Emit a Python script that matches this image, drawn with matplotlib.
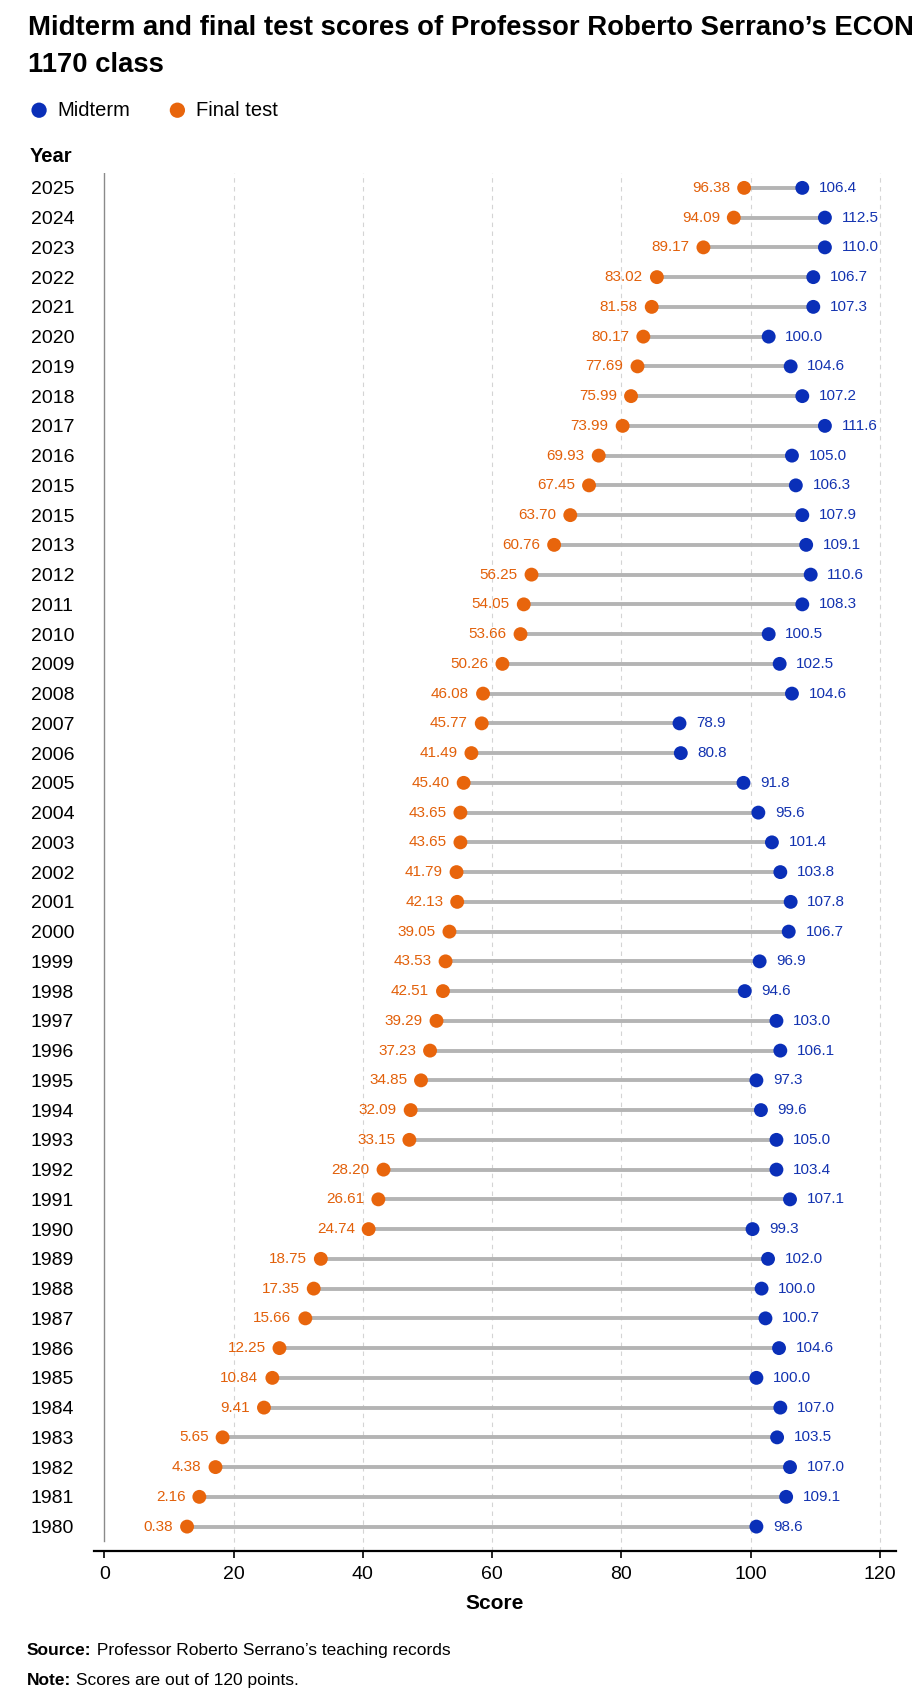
import matplotlib
matplotlib.use("Agg")
import matplotlib.pyplot as plt

plt.rcParams['font.family'] = ['Liberation Sans', 'DejaVu Sans']

# rows from top to bottom, as printed in the chart
YEARS = ["2025", "2024", "2023", "2022", "2021", "2020", "2019", "2018", "2017", "2016",
         "2015", "2015", "2013", "2012", "2011", "2010", "2009", "2008", "2007", "2006",
         "2005", "2004", "2003", "2002", "2001", "2000", "1999", "1998", "1997", "1996",
         "1995", "1994", "1993", "1992", "1991", "1990", "1989", "1988", "1987", "1986",
         "1985", "1984", "1983", "1982", "1981", "1980"]

# where the dots sit on the score axis
FINAL_POS = [99.0, 97.4, 92.7, 85.5, 84.7, 83.4, 82.5, 81.5, 80.2, 76.5,
             75.0, 72.1, 69.6, 66.1, 64.9, 64.4, 61.6, 58.6, 58.4, 56.8,
             55.6, 55.1, 55.1, 54.5, 54.6, 53.4, 52.8, 52.4, 51.4, 50.4,
             49.0, 47.4, 47.2, 43.2, 42.4, 40.9, 33.5, 32.4, 31.1, 27.1,
             26.0, 24.7, 18.3, 17.2, 14.7, 12.8]
MIDTERM_POS = [108.0, 111.5, 111.5, 109.7, 109.7, 102.8, 106.2, 108.0, 111.5, 106.4,
               107.0, 108.0, 108.6, 109.3, 108.0, 102.8, 104.5, 106.4, 89.0, 89.2,
               98.9, 101.2, 103.3, 104.6, 106.2, 105.9, 101.4, 99.1, 104.0, 104.6,
               100.9, 101.6, 104.0, 104.0, 106.1, 100.3, 102.7, 101.7, 102.3, 104.4,
               100.9, 104.6, 104.1, 106.1, 105.5, 100.9]

# the numbers printed next to the dots
FINAL_LABELS = [96.38, 94.09, 89.17, 83.02, 81.58, 80.17, 77.69, 75.99, 73.99, 69.93,
                67.45, 63.70, 60.76, 56.25, 54.05, 53.66, 50.26, 46.08, 45.77, 41.49,
                45.40, 43.65, 43.65, 41.79, 42.13, 39.05, 43.53, 42.51, 39.29, 37.23,
                34.85, 32.09, 33.15, 28.20, 26.61, 24.74, 18.75, 17.35, 15.66, 12.25,
                10.84, 9.41, 5.65, 4.38, 2.16, 0.38]
MIDTERM_LABELS = [106.4, 112.5, 110.0, 106.7, 107.3, 100.0, 104.6, 107.2, 111.6, 105.0,
                  106.3, 107.9, 109.1, 110.6, 108.3, 100.5, 102.5, 104.6, 78.9, 80.8,
                  91.8, 95.6, 101.4, 103.8, 107.8, 106.7, 96.9, 94.6, 103.0, 106.1,
                  97.3, 99.6, 105.0, 103.4, 107.1, 99.3, 102.0, 100.0, 100.7, 104.6,
                  100.0, 107.0, 103.5, 107.0, 109.1, 98.6]

XTICKS = [0, 20, 40, 60, 80, 100, 120]

BLUE = "#0a2fb8"
ORANGE = "#e8650c"
BLUE_TXT = "#1333b0"
ORANGE_TXT = "#e2600a"

W, H = 924, 1703
fig = plt.figure(figsize=(W / 100, H / 100), dpi=100)
ax = fig.add_axes([94 / W, 1 - 1551 / H, (896 - 94) / W, (1551 - 173) / H])

n = len(YEARS)
ys = [n - 1 - i for i in range(n)]

ax.hlines(ys, FINAL_POS, MIDTERM_POS, color="#b4b4b4", lw=2.8, zorder=2)
mid = ax.scatter(MIDTERM_POS, ys, s=100, color=BLUE, zorder=3, label="Midterm", edgecolors="none")
fin = ax.scatter(FINAL_POS, ys, s=100, color=ORANGE, zorder=3, label="Final test", edgecolors="none")

for y, xf, xm, lf, lm in zip(ys, FINAL_POS, MIDTERM_POS, FINAL_LABELS, MIDTERM_LABELS):
    ax.annotate(f"{lf:.2f}", (xf, y), xytext=(-10, 0), textcoords="offset points",
                ha="right", va="center", fontsize=11, color=ORANGE_TXT)
    ax.annotate(f"{lm:.1f}", (xm, y), xytext=(12, 0), textcoords="offset points",
                ha="left", va="center", fontsize=11, color=BLUE_TXT)

ax.set_xlim(-1.6, 122.5)
ax.set_ylim(-0.82, n - 0.5)
ax.set_xticks(XTICKS)
ax.set_yticks(ys)
ax.set_yticklabels(YEARS, ha="left")
ax.tick_params(axis="y", length=0, pad=45.6, labelsize=14)
ax.tick_params(axis="x", length=5, width=1.2, pad=6, labelsize=14)

for x in XTICKS[1:]:
    ax.axvline(x, color="#d4d4d4", lw=0.8, ls=(0, (4, 4)), zorder=0)
ax.axvline(0, ymin=0.007, color="#8a8a8a", lw=1.0, zorder=1)

for s in ["top", "right", "left"]:
    ax.spines[s].set_visible(False)
ax.spines["bottom"].set_linewidth(1.6)
ax.set_xlabel("Score", fontsize=15, fontweight="bold", labelpad=8)

fig.text(28 / W, 1 - 28 / H, "Midterm and final test scores of Professor Roberto Serrano\u2019s ECON",
         fontsize=19.8, fontweight="bold", va="center", ha="left")
fig.text(28 / W, 1 - 65 / H, "1170 class", fontsize=19.8, fontweight="bold", va="center", ha="left")

fig.legend(handles=[mid, fin], loc="center left", bbox_to_anchor=(30 / W, 1 - 110 / H),
           frameon=False, ncol=2, fontsize=14.5, handlelength=0.9, handletextpad=0.45,
           columnspacing=1.9, borderpad=0, borderaxespad=0, markerscale=1.1)

fig.text(30 / W, 1 - 157 / H, "Year", fontsize=14.5, fontweight="bold", va="center", ha="left")

# footnotes: bold lead word, then regular text on the same baseline
renderer = fig.canvas.get_renderer()
for lead, rest, ypix in [("Source:", " Professor Roberto Serrano\u2019s teaching records", 1655),
                         ("Note:", " Scores are out of 120 points.", 1685)]:
    t = fig.text(27 / W, 1 - ypix / H, lead, fontsize=12.5, fontweight="bold", va="baseline")
    x_end = t.get_window_extent(renderer).x1 / W
    fig.text(x_end, 1 - ypix / H, rest, fontsize=12.5, va="baseline")

fig.savefig("out.png", dpi=100)
